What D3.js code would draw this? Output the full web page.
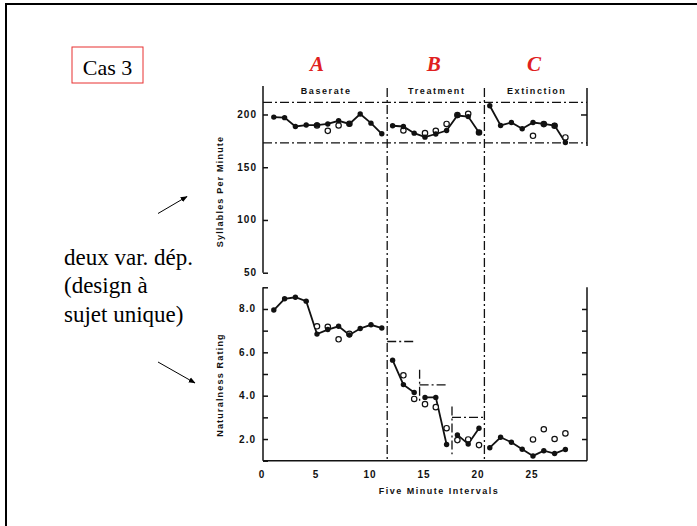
<!DOCTYPE html>
<html>
<head>
<meta charset="utf-8">
<script src="https://cdn.jsdelivr.net/npm/d3@7"></script>
<style>
  body { margin: 0; background: #fff; }
  svg { display: block; }
  .lab { font-family: "Liberation Sans", Arial, sans-serif; font-weight: bold; fill: #111; }
  .serif { font-family: "Liberation Serif", "Times New Roman", serif; fill: #000; }
</style>
</head>
<body>
<svg width="697" height="526"></svg>
<script>
// sessions (five minute intervals)
const sessions = [1, 2, 3, 4, 5, 6, 7, 8, 9, 10, 11, 12, 13, 14, 15, 16, 17, 18, 19, 20, 21, 22, 23, 24, 25, 26, 27, 28];

// syllables per minute, primary observer (filled)
const sylFilled = [197.5, 197, 188.6, 190, 190, 191, 194, 191, 200.4, 191.8, 181.7,
  189.3, 188.6, 182.3, 178.5, 181.5, 184.8, 199, 198, 183,
  208.3, 189.6, 192.4, 186.4, 192.4, 191, 189.5, 173.4];
// syllables per minute, second observer (open)
const sylOpenSess = [5, 6, 7, 8, 13, 15, 16, 17, 18, 19, 20, 25, 26, 27, 28];
const sylOpen = [189.6, 184.5, 189.6, 191.2, 184.8, 182.3, 184.5, 191, 199.5, 200.6, 182.9, 179.8, 190.9, 189.3, 178.2];
const sylLimits = [211.4, 173.1];

// naturalness rating
const natFilled = [7.95, 8.47, 8.54, 8.36, 6.84, 7.05, 7.2, 6.8, 7.1, 7.27, 7.12,
  5.64, 4.51, 4.15, 3.92, 3.92, 1.75, 2.19, 1.77, 2.5,
  1.6, 2.08, 1.85, 1.53, 1.22, 1.46, 1.33, 1.52];
const natOpenSess = [5, 6, 7, 8, 13, 14, 15, 16, 17, 18, 19, 20, 25, 26, 27, 28];
const natOpen = [7.2, 7.18, 6.6, 6.85, 4.94, 3.85, 3.61, 3.47, 2.5, 1.95, 1.98, 1.72, 1.98, 2.45, 2.0, 2.26];

// phases
const phaseBreaks = [11.5, 20.5];
const phaseNames = ['Baserate', 'Treatment', 'Extinction'];
const phaseLetters = ['A', 'B', 'C'];
const letterAt = [5.0, 15.8, 25.1];
const sylRuns = [[1, 11], [12, 20], [21, 28]];
const natRuns = [[1, 11], [12, 14], [15, 17], [18, 20], [21, 28]];

// changing criterion steps in treatment
const critLevel = [6.5, 4.5, 3.0];
const critStart = [11.5, 14.5, 17.5];
const critEnd = [14.0, 17.0, 20.5];
const critVert = [[14.5, 5.2, 3.65], [17.5, 3.5, 1.3]];

const xTicks = [0, 5, 10, 15, 20, 25];
const sylTicks = [50, 100, 150, 200];
const natTicks = [1, 2, 3, 4, 5, 6, 7, 8, 9];
const natLabels = [2, 4, 6, 8];

const svg = d3.select('svg');
const x = d3.scaleLinear().domain([0, 30]).range([263, 587]);
const yS = d3.scaleLinear().domain([50, 227]).range([272.7, 86]);
const yN = d3.scaleLinear().domain([1, 9]).range([460.7, 287.3]);
const dash = '9,3,2,3';

// page frame
svg.append('path').attr('d', 'M6,526V4H697').attr('fill', 'none').attr('stroke', '#000').attr('stroke-width', 2);

// left annotations
svg.append('rect').attr('x', 72).attr('y', 47).attr('width', 71).attr('height', 36)
  .attr('fill', 'none').attr('stroke', '#e83030').attr('stroke-width', 1);
svg.append('text').attr('class', 'serif').attr('x', 107.5).attr('y', 75).attr('text-anchor', 'middle')
  .style('font-size', '22px').text('Cas 3');
['deux var. dép.', '(design à', 'sujet unique)'].forEach((t, i) => {
  svg.append('text').attr('class', 'serif').attr('x', 64).attr('y', 265 + i * 28.3)
    .style('font-size', '23px').text(t);
});
svg.append('defs').append('marker').attr('id', 'ah').attr('viewBox', '0 0 10 10')
  .attr('refX', 9).attr('refY', 5).attr('markerWidth', 7).attr('markerHeight', 7).attr('orient', 'auto')
  .append('path').attr('d', 'M0,1L10,5L0,9Z').attr('fill', '#000');
[[158, 213.5, 187, 196.5], [158, 362, 195, 383]].forEach(a => {
  svg.append('line').attr('x1', a[0]).attr('y1', a[1]).attr('x2', a[2]).attr('y2', a[3])
    .attr('stroke', '#000').attr('stroke-width', 1).attr('marker-end', 'url(#ah)');
});

// phase letters and names
const bounds = [0, ...phaseBreaks, 30];
phaseLetters.forEach((l, i) => {
  const mid = (bounds[i] + bounds[i + 1]) / 2;
  svg.append('text').attr('x', x(letterAt[i])).attr('y', 71).attr('text-anchor', 'middle')
    .style('font-family', '"Liberation Serif", "Times New Roman", serif')
    .style('font-style', 'italic').style('font-weight', 'bold').style('font-size', '21px')
    .attr('fill', '#e02020').text(l);
  svg.append('text').attr('class', 'lab').attr('x', x(mid) + 1).attr('y', 94).attr('text-anchor', 'middle')
    .style('font-size', '9px').style('letter-spacing', '1.6px').text(phaseNames[i]);
});

// top panel axes
const axS = svg.append('g').attr('transform', `translate(${x(0)},0)`)
  .call(d3.axisRight(yS).tickValues(sylTicks).tickSize(5).tickFormat(''));
axS.select('.domain').attr('d', `M0,${yS(227)}V${yS(50)}`);
svg.selectAll('.sylLab').data(sylTicks).enter().append('text').attr('class', 'lab')
  .attr('x', 257).attr('y', d => yS(d) + 3.5).attr('text-anchor', 'end')
  .style('font-size', '10px').style('letter-spacing', '1px').text(d => d);
const axSR = svg.append('g').attr('transform', `translate(${x(30)},0)`)
  .call(d3.axisLeft(yS).tickValues([200]).tickSize(6).tickFormat(''));
axSR.select('.domain').attr('d', `M0,${yS(225)}V${yS(170)}`);

// bottom panel axes
const axN = svg.append('g').attr('transform', `translate(${x(0)},0)`)
  .call(d3.axisRight(yN).tickValues(natTicks).tickSize(5).tickFormat(''));
axN.select('.domain').attr('d', `M0,${yN(9)}V${yN(1)}`);
const axNR = svg.append('g').attr('transform', `translate(${x(30)},0)`)
  .call(d3.axisLeft(yN).tickValues(natTicks.slice(1, 8)).tickSize(5).tickFormat(''));
axNR.select('.domain').attr('d', `M0,${yN(9)}V${yN(1)}`);
svg.selectAll('.natLab').data(natLabels).enter().append('text').attr('class', 'lab')
  .attr('x', 256).attr('y', d => yN(d) + 3.5).attr('text-anchor', 'end')
  .style('font-size', '10px').style('letter-spacing', '1px').text(d => d.toFixed(1));
const axX = svg.append('g').attr('transform', `translate(0,${yN(1)})`)
  .call(d3.axisBottom(x).tickValues(xTicks).tickSize(0).tickFormat(''));
axX.select('.domain').attr('d', `M${x(0)},0H${x(30)}`);
svg.selectAll('.xLab').data(xTicks).enter().append('text').attr('class', 'lab')
  .attr('x', d => x(d) - 1).attr('y', 478).attr('text-anchor', 'middle')
  .style('font-size', '10px').style('letter-spacing', '1px').text(d => d);
svg.selectAll('.domain, .tick line').attr('stroke', '#111').attr('stroke-width', 1.5);

// axis titles
svg.append('text').attr('class', 'lab').attr('transform', 'translate(223,191.5) rotate(-90)')
  .attr('text-anchor', 'middle').style('font-size', '9px').style('letter-spacing', '1.2px').text('Syllables Per Minute');
svg.append('text').attr('class', 'lab').attr('transform', 'translate(223,385) rotate(-90)')
  .attr('text-anchor', 'middle').style('font-size', '9px').style('letter-spacing', '1.2px').text('Naturalness Rating');
svg.append('text').attr('class', 'lab').attr('x', 439).attr('y', 494)
  .attr('text-anchor', 'middle').style('font-size', '9px').style('letter-spacing', '1.5px').text('Five Minute Intervals');

// phase change lines and limits
const dd = (g) => g.attr('stroke', '#111').attr('stroke-width', 1.3).attr('stroke-dasharray', dash).attr('fill', 'none');
phaseBreaks.forEach(b => {
  svg.append('line').attr('x1', x(b)).attr('x2', x(b)).attr('y1', yS(225)).attr('y2', yN(1)).call(dd);
});
sylLimits.forEach(v => {
  svg.append('line').attr('x1', x(0)).attr('x2', x(30)).attr('y1', yS(v)).attr('y2', yS(v)).call(dd);
});
critLevel.forEach((v, i) => {
  svg.append('line').attr('x1', x(critStart[i])).attr('x2', x(critEnd[i])).attr('y1', yN(v)).attr('y2', yN(v)).call(dd);
});
critVert.forEach(c => {
  svg.append('line').attr('x1', x(c[0])).attr('x2', x(c[0])).attr('y1', yN(c[1])).attr('y2', yN(c[2])).call(dd);
});

// data
function drawSeries(y, filled, runs, openSess, openVals) {
  const pts = sessions.map((s, i) => [s, filled[i]]);
  const line = d3.line().x(d => x(d[0])).y(d => y(d[1]));
  runs.forEach(r => {
    svg.append('path').datum(pts.filter(p => p[0] >= r[0] && p[0] <= r[1]))
      .attr('d', line).attr('fill', 'none').attr('stroke', '#111').attr('stroke-width', 1.8);
  });
  svg.append('g').selectAll('circle').data(openSess).enter().append('circle')
    .attr('cx', d => x(d)).attr('cy', (d, i) => y(openVals[i])).attr('r', 2.7)
    .attr('fill', '#fff').attr('stroke', '#111').attr('stroke-width', 1.2);
  svg.append('g').selectAll('circle').data(pts).enter().append('circle')
    .attr('cx', d => x(d[0])).attr('cy', d => y(d[1])).attr('r', 2.7).attr('fill', '#111');
}
drawSeries(yS, sylFilled, sylRuns, sylOpenSess, sylOpen);
drawSeries(yN, natFilled, natRuns, natOpenSess, natOpen);
</script>
</body>
</html>
